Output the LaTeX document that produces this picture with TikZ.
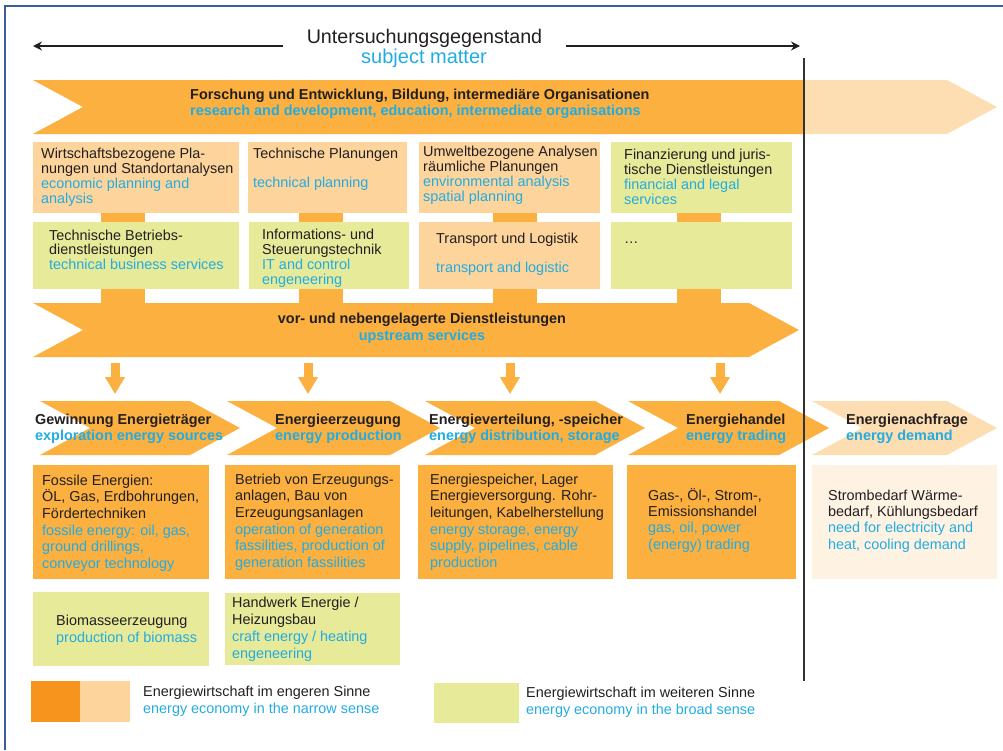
\documentclass[tikz,border=0pt]{standalone}
\usepackage{fontspec}
\setmainfont{Liberation Sans}
\usetikzlibrary{calc, positioning, arrows.meta}
\definecolor{BandOrange}{RGB}{251,176,64}
\definecolor{PaleOrange}{RGB}{252,212,156}
\definecolor{PalePeach}{RGB}{253,222,178}
\definecolor{Cream}{RGB}{254,242,226}
\definecolor{LimeGreen}{RGB}{230,234,153}
\definecolor{DeepOrange}{RGB}{247,148,30}
\definecolor{TextBlue}{RGB}{34,172,226}
\definecolor{TextDark}{RGB}{35,31,32}
\definecolor{FrameBlue}{RGB}{58,92,152}
\newcommand{\enline}[1]{\textcolor{TextBlue}{#1}}

\begin{document}
\begin{tikzpicture}[x=1pt, y=-1pt,
  panel/.style={anchor=north west, inner sep=0pt, outer sep=0pt},
  txt/.style={anchor=base west, inner sep=0pt, align=left, text=TextDark, font=\fontsize{14.4}{#1}\selectfont},
  txt/.default=14.7,
  headtxt/.style={txt, font=\fontsize{14.4}{#1}\selectfont\bfseries},
  headtxt/.default=16.5,
  link/.style={BandOrange, line width=44pt},
  flow/.style={BandOrange, line width=9pt, -{Triangle[width=19pt, length=17pt]}, shorten >=7pt},
  span/.style={TextDark, line width=2.5pt, -{Stealth[length=9pt, width=9pt]}},
  divider/.style={black!80, line width=1.5pt}]
\useasboundingbox (0,0) rectangle (1003,750);

% Frame
\draw[FrameBlue, line width=2pt] (5,750) -- (5,6) -- (1003,6);

% Subject matter
\node[anchor=base, inner sep=0pt, text=TextDark, font=\fontsize{19.7}{20}\selectfont] (title) at (424.5,43) {Untersuchungsgegenstand};
\node[anchor=base, inner sep=0pt, text=TextBlue, font=\fontsize{20}{20}\selectfont] (titleen) at (424,63) {subject matter};
\coordinate (spanL) at (33,46);
\coordinate (spanLin) at (283,46);
\coordinate (spanRin) at (566,46);
\coordinate (spanR) at (800,46);
\draw[span] (spanLin) -- (spanL);
\draw[span] (spanRin) -- (spanR);
\coordinate (divtop) at (804,58);
\coordinate (divbot) at (804,681);

% Bands and chevrons
\node[panel, minimum width=964, minimum height=54] (rd) at (33,80) {};
\node[panel, minimum width=766, minimum height=54] (svc) at (33,303) {};
\foreach \n/\x/\w in {c1/40/200, c2/227/213, c3/425/220, c4/628/201, c5/812/185}
  \node[panel, minimum width=\w, minimum height=54] (\n) at (\x,401) {};
\foreach \c/\col in {rd/PalePeach, svc/BandOrange, c1/BandOrange, c2/BandOrange, c3/BandOrange, c4/BandOrange, c5/PalePeach}
  \fill[\col] (\c.north west) -- ([xshift=-50]\c.north east) -- (\c.east) -- ([xshift=-50]\c.south east) -- (\c.south west) -- ([xshift=50]\c.west) -- cycle;
\begin{scope}
  \clip (rd.north west) rectangle (divtop |- rd.south);
  \fill[BandOrange] (rd.north west) -- ([xshift=-50]rd.north east) -- (rd.east) -- ([xshift=-50]rd.south east) -- (rd.south west) -- ([xshift=50]rd.west) -- cycle;
\end{scope}

% last baselines given for text nodes of several lines
\node[headtxt=16] (rdtext) at (190,115) {Forschung und Entwicklung, Bildung, intermediäre Organisationen\\\enline{research and development, education, intermediate organisations}};
\node[headtxt=17, anchor=base, align=center] (svctext) at (422,340) {vor- und nebengelagerte Dienstleistungen\\\enline{upstream services}};

% Service boxes
\foreach \n/\x/\w/\col in {a1/33/206/PaleOrange, a2/248/159/PaleOrange, a3/419/181/PaleOrange, a4/611/181/LimeGreen}
  \node[panel, fill=\col, minimum width=\w, minimum height=71] (\n) at (\x,142) {};
\foreach \n/\x/\w/\col in {b1/33/206/LimeGreen, b2/249/160/LimeGreen, b3/419/181/PaleOrange, b4/611/181/LimeGreen}
  \node[panel, fill=\col, minimum width=\w, minimum height=67] (\n) at (\x,222) {};

\foreach \i/\dx in {1/-13, 2/-7, 3/5, 4/-3} {
  \coordinate (k\i) at ([xshift=\dx]a\i.south);
  \draw[link] (k\i) -- (k\i |- b\i.north);
  \coordinate (l\i) at (k\i |- b\i.south);
  \draw[link] (l\i) -- (l\i |- svc.north);
}

\node[txt] (a1text) at (41,203) {Wirtschaftsbezogene Pla-\\nungen und Standortanalysen\\\enline{economic planning and}\\\enline{analysis}};
\node[txt] (a2text) at (253,187.4) {Technische Planungen\\[14.7pt]\enline{technical planning}};
\node[txt] (a3text) at (423,201) {Umweltbezogene Analysen\\räumliche Planungen\\\enline{environmental analysis}\\\enline{spatial planning}};
\node[txt] (a4text) at (624,204) {Finanzierung und juris-\\tische Dienstleistungen\\\enline{financial and legal}\\\enline{services}};
\node[txt] (b1text) at (49,269.4) {Technische Betriebs-\\dienstleistungen\\\enline{technical business services}};
\node[txt] (b2text) at (262,284) {Informations- und\\Steuerungstechnik\\\enline{IT and control}\\\enline{engeneering}};
\node[txt] (b3text) at (436,272.4) {Transport und Logistik\\[14.7pt]\enline{transport and logistic}};
\node[txt] (b4text) at (624,243) {\ldots};

% Value chain
\foreach \i/\dx in {1/-301, 2/-108, 3/94, 4/304} {
  \coordinate (d\i) at ([xshift=\dx, yshift=-6]svc.south);
  \draw[flow] (d\i) -- (d\i |- c\i.north);
}
\node[headtxt] (c1text) at (35,440.5) {Gewinnung Energieträger\\\enline{exploration energy sources}};
\node[headtxt] (c2text) at (275,440.5) {Energieerzeugung\\\enline{energy production}};
\node[headtxt] (c3text) at (429,440.5) {Energieverteilung, -speicher\\\enline{energy distribution, storage}};
\node[headtxt] (c4text) at (686,440.5) {Energiehandel\\\enline{energy trading}};
\node[headtxt] (c5text) at (846,440.5) {Energienachfrage\\\enline{energy demand}};

% Sector boxes
\foreach \n/\x/\w/\col in {d1/33/176/BandOrange, d2/225/175/BandOrange, d3/418/195/BandOrange, d4/627/169/BandOrange, d5/812/185/Cream}
  \node[panel, fill=\col, minimum width=\w, minimum height=114] (\n) at (\x,465) {};
\node[panel, fill=LimeGreen, minimum width=176, minimum height=74] (e1) at (33,592) {};
\node[panel, fill=LimeGreen, minimum width=175, minimum height=72] (e2) at (225,593) {};

\node[txt=16.7] (d1text) at (42,568.5) {Fossile Energien:\\ÖL, Gas, Erdbohrungen,\\Fördertechniken\\\enline{fossile energy: oil, gas,}\\\enline{ground drillings,}\\\enline{conveyor technology}};
\node[txt=16.7] (d2text) at (235,567.5) {Betrieb von Erzeugungs-\\anlagen, Bau von\\Erzeugungsanlagen\\\enline{operation of generation}\\\enline{fassilities, production of}\\\enline{generation fassilities}};
\node[txt=16.7] (d3text) at (430,567.5) {Energiespeicher, Lager\\Energieversorgung. Rohr-\\leitungen, Kabelherstellung\\\enline{energy storage, energy}\\\enline{supply, pipelines, cable}\\\enline{production}};
\node[txt=16.3] (d4text) at (648,549) {Gas-, Öl-, Strom-,\\Emissionshandel\\\enline{gas, oil, power}\\\enline{(energy) trading}};
\node[txt=16.3] (d5text) at (828,549) {Strombedarf Wärme-\\bedarf, Kühlungsbedarf\\\enline{need for electricity and}\\\enline{heat, cooling demand}};
\node[txt=17] (e1text) at (56,642) {Biomasseerzeugung\\\enline{production of biomass}};
\node[txt=16.7] (e2text) at (232,658) {Handwerk Energie /\\Heizungsbau\\\enline{craft energy / heating}\\\enline{engeneering}};

% Legend
\node[panel, fill=DeepOrange, minimum width=49, minimum height=41] (keya) at (31,681) {};
\node[panel, fill=PaleOrange, minimum width=50, minimum height=41] (keyb) at (keya.north east) {};
\node[txt=17] (keynarrow) at (143,713) {Energiewirtschaft im engeren Sinne\\\enline{energy economy in the narrow sense}};
\node[panel, fill=LimeGreen, minimum width=85, minimum height=40] (keyc) at (434,683) {};
\node[txt=17.5] (keybroad) at (526,714.5) {Energiewirtschaft im weiteren Sinne\\\enline{energy economy in the broad sense}};

% Divider
\draw[divider] (divtop) -- (divbot);
\end{tikzpicture}
\end{document}
